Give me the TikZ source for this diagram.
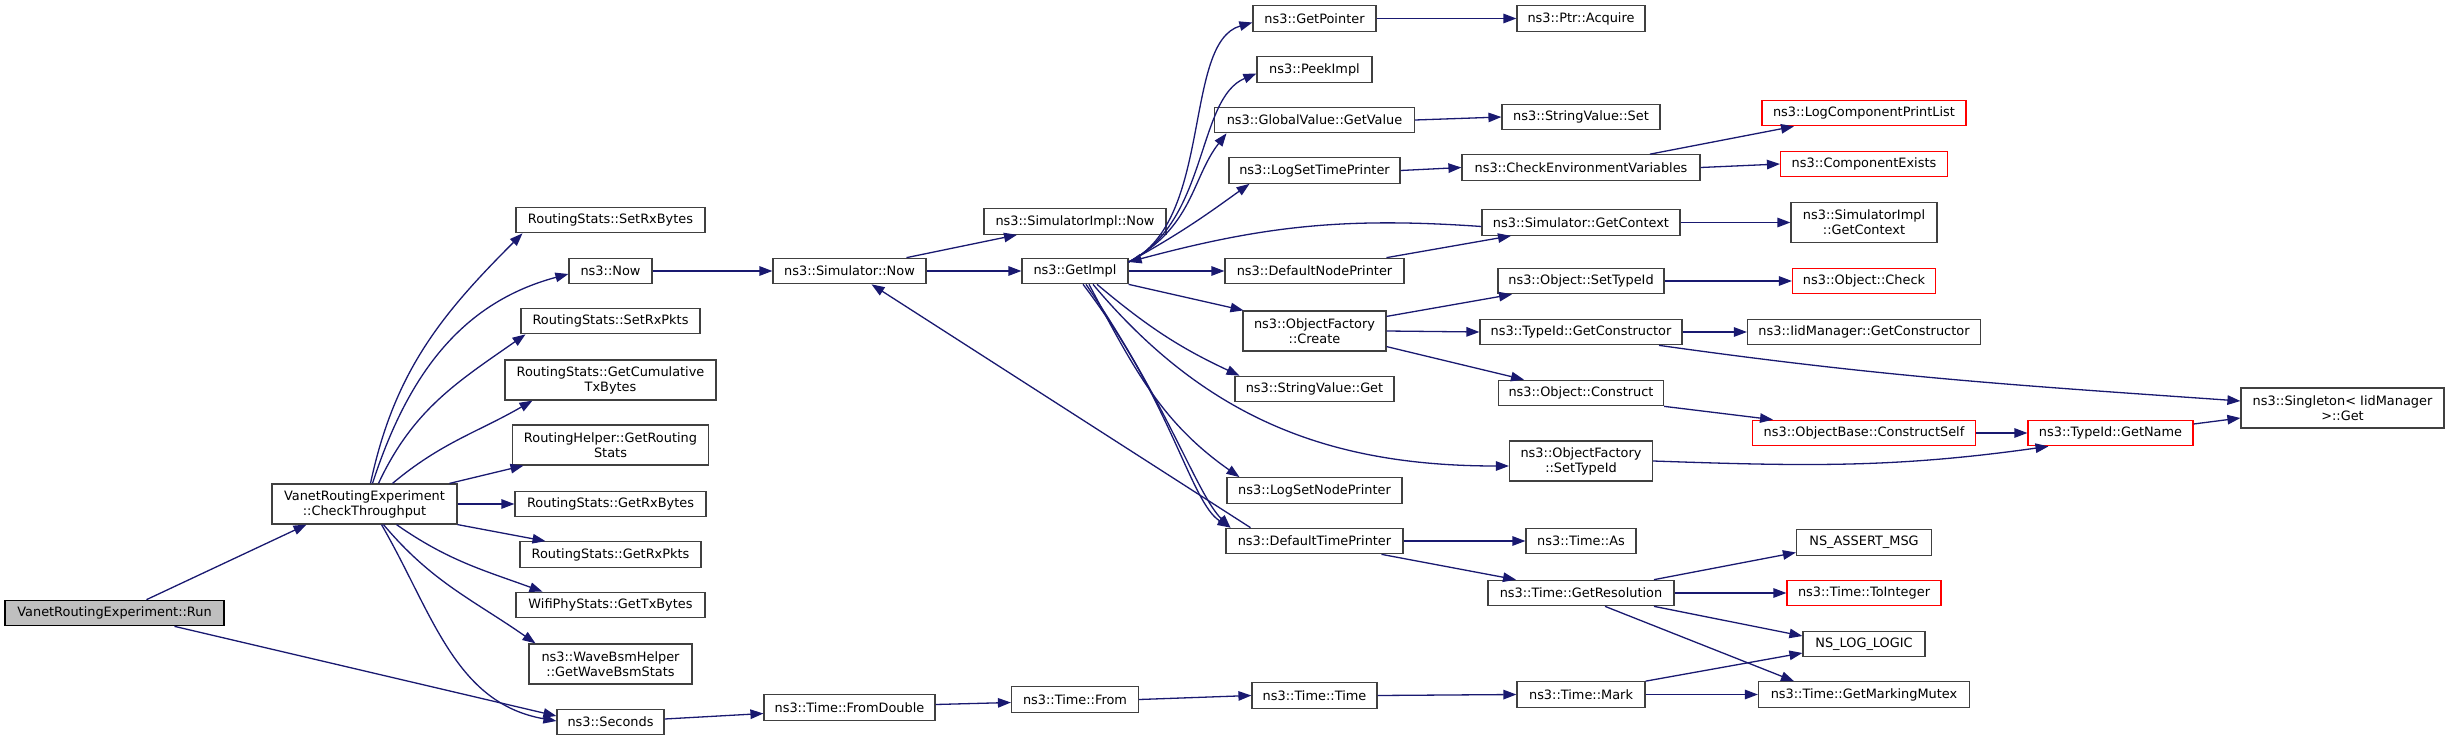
\documentclass[tikz,border=0pt]{standalone}
\usepackage{fontspec}
\setmainfont{DejaVu Sans}
\usetikzlibrary{arrows.meta}
\definecolor{edgec}{HTML}{191970}
\definecolor{boxc}{HTML}{404040}
\definecolor{rootfill}{HTML}{BFBFBF}
\newcommand\gfont{\fontsize{12.9}{15}\selectfont}
\tikzset{
  fn/.style={draw=boxc, line width=1.2pt, fill=white, inner xsep=0pt, inner ysep=0pt,
             minimum height=25.5pt, font=\gfont, align=center},
  fn2/.style={fn, minimum height=40pt},
  trunc/.style={draw=red},
  rootn/.style={fn, fill=rootfill, draw=black},
  e/.style={draw=edgec, line width=1.3pt, -{Triangle[length=13pt,width=9.5pt]}}
}
\begin{document}
\begin{tikzpicture}[x=1pt,y=1pt]
\useasboundingbox (0,0) rectangle (2449,-741);
% column 0 and 1
\node[rootn, minimum width=219pt] (run) at (114.5,-613) {VanetRoutingExperiment::Run};
\node[fn2, minimum width=185pt] (chk) at (364.5,-504) {VanetRoutingExperiment\\::CheckThroughput};
% column 2
\node[fn, minimum width=189pt] (srxb) at (610.5,-220) {RoutingStats::SetRxBytes};
\node[fn, minimum width=83pt] (now) at (610.5,-271) {ns3::Now};
\node[fn, minimum width=179pt] (srxp) at (610.5,-321) {RoutingStats::SetRxPkts};
\node[fn2, minimum width=211pt] (gcum) at (610.5,-380) {RoutingStats::GetCumulative\\TxBytes};
\node[fn2, minimum width=196pt] (grs) at (610.5,-445) {RoutingHelper::GetRouting\\Stats};
\node[fn, minimum width=191pt] (grxb) at (610.5,-504) {RoutingStats::GetRxBytes};
\node[fn, minimum width=181pt] (grxp) at (610.5,-554.5) {RoutingStats::GetRxPkts};
\node[fn, minimum width=189pt] (gtxb) at (610.5,-605) {WifiPhyStats::GetTxBytes};
\node[fn2, minimum width=163pt] (wbsm) at (610.5,-664) {ns3::WaveBsmHelper\\::GetWaveBsmStats};
\node[fn, minimum width=107pt] (sec) at (610.5,-722) {ns3::Seconds};
% column 3
\node[fn, minimum width=153pt] (snow) at (849.5,-271) {ns3::Simulator::Now};
\node[fn, minimum width=171pt] (fromd) at (849.5,-707.5) {ns3::Time::FromDouble};
% column 4
\node[fn, minimum width=182pt] (simpnow) at (1075,-221.5) {ns3::SimulatorImpl::Now};
\node[fn, minimum width=106pt] (getimpl) at (1075,-271) {ns3::GetImpl};
\node[fn, minimum width=127pt] (tfrom) at (1075,-699.5) {ns3::Time::From};
% column 5
\node[fn, minimum width=123pt] (getptr) at (1314.5,-18.5) {ns3::GetPointer};
\node[fn, minimum width=115pt] (peek) at (1314.5,-69.5) {ns3::PeekImpl};
\node[fn, minimum width=200pt] (gvgv) at (1314.5,-120) {ns3::GlobalValue::GetValue};
\node[fn, minimum width=171pt] (lstp) at (1314.5,-170.5) {ns3::LogSetTimePrinter};
\node[fn, minimum width=179pt] (dnp) at (1314.5,-271) {ns3::DefaultNodePrinter};
\node[fn2, minimum width=143pt] (ofc) at (1314.5,-331) {ns3::ObjectFactory\\::Create};
\node[fn, minimum width=159pt] (svg) at (1314.5,-389) {ns3::StringValue::Get};
\node[fn, minimum width=175pt] (lsnp) at (1314.5,-490.5) {ns3::LogSetNodePrinter};
\node[fn, minimum width=177pt] (dtp) at (1314.5,-541) {ns3::DefaultTimePrinter};
\node[fn, minimum width=125pt] (ttime) at (1314.5,-695.5) {ns3::Time::Time};
% column 6
\node[fn, minimum width=128pt] (acq) at (1581,-18.5) {ns3::Ptr::Acquire};
\node[fn, minimum width=158pt] (svs) at (1581,-117) {ns3::StringValue::Set};
\node[fn, minimum width=238pt] (cev) at (1581,-167.5) {ns3::CheckEnvironmentVariables};
\node[fn, minimum width=198pt] (sgc) at (1581,-222.5) {ns3::Simulator::GetContext};
\node[fn, minimum width=166pt] (ost) at (1581,-281) {ns3::Object::SetTypeId};
\node[fn, minimum width=202pt] (tgc) at (1581,-332) {ns3::TypeId::GetConstructor};
\node[fn, minimum width=165pt] (oc) at (1581,-393) {ns3::Object::Construct};
\node[fn2, minimum width=143pt] (ofst) at (1581,-461) {ns3::ObjectFactory\\::SetTypeId};
\node[fn, minimum width=110pt] (tas) at (1581,-541) {ns3::Time::As};
\node[fn, minimum width=186pt] (tgr) at (1581,-593) {ns3::Time::GetResolution};
\node[fn, minimum width=128pt] (tmark) at (1581,-694.5) {ns3::Time::Mark};
% column 7
\node[fn, trunc, minimum width=204pt] (lcpl) at (1864,-113) {ns3::LogComponentPrintList};
\node[fn, trunc, minimum width=167pt] (cex) at (1864,-164) {ns3::ComponentExists};
\node[fn2, minimum width=146pt] (sigc) at (1864,-222.5) {ns3::SimulatorImpl\\::GetContext};
\node[fn, trunc, minimum width=143pt] (ochk) at (1864,-281) {ns3::Object::Check};
\node[fn, minimum width=233pt] (imgc) at (1864,-332) {ns3::IidManager::GetConstructor};
\node[fn, trunc, minimum width=223pt] (ocs) at (1864,-433) {ns3::ObjectBase::ConstructSelf};
\node[fn, minimum width=135pt] (nsam) at (1864,-542.5) {NS\_ASSERT\_MSG};
\node[fn, trunc, minimum width=154pt] (toi) at (1864,-593) {ns3::Time::ToInteger};
\node[fn, minimum width=122pt] (nll) at (1864,-644) {NS\_LOG\_LOGIC};
\node[fn, minimum width=211pt] (gmm) at (1864,-694.5) {ns3::Time::GetMarkingMutex};
% columns 8, 9
\node[fn, trunc, minimum width=165pt] (tgn) at (2110.5,-433) {ns3::TypeId::GetName};
\node[fn2, minimum width=203pt] (sing) at (2342.5,-408) {ns3::Singleton< IidManager\\>::Get};

% edges
\draw[e] ([xshift=32pt]run.north) -- ([xshift=-58pt]chk.south);
\draw[e] ([xshift=60pt]run.south) -- ([yshift=6pt]sec.west);
\draw[e] ([xshift=6pt]chk.north) to[out=78,in=-135] ([xshift=-88pt]srxb.south);
\draw[e] ([xshift=8pt]chk.north) to[out=72,in=195] ([yshift=-3pt]now.west);
\draw[e] ([xshift=14pt]chk.north) to[out=65,in=-145] ([xshift=-85pt]srxp.south);
\draw[e] ([xshift=28pt]chk.north) to[out=40,in=-150] ([xshift=-78pt]gcum.south);
\draw[e] ([xshift=85pt]chk.north) -- ([xshift=-87pt]grs.south);
\draw[e] (chk.east) -- (grxb.west);
\draw[e] (chk.south east) -- ([xshift=-65pt]grxp.north);
\draw[e] ([xshift=32pt]chk.south) to[out=-35,in=160] ([xshift=-68pt]gtxb.north);
\draw[e] ([xshift=19pt]chk.south) to[out=-50,in=145] ([xshift=-75pt]wbsm.north);
\draw[e] ([xshift=17pt]chk.south) to[out=-60,in=170] ([yshift=1pt]sec.west);
\draw[e] (now.east) -- (snow.west);
\draw[e] ([xshift=57pt]snow.north) -- ([xshift=-58pt]simpnow.south);
\draw[e] (snow.east) -- (getimpl.west);
\draw[e] ([xshift=-64pt]dtp.north) -- ([xshift=22pt]snow.south);
\draw[e] ([yshift=3pt]sec.east) -- ([yshift=-6pt]fromd.west);
\draw[e] ([yshift=3pt]fromd.east) -- ([yshift=-3pt]tfrom.west);
\draw[e] (tfrom.east) -- (ttime.west);
\draw[e] (ttime.east) -- (tmark.west);
\draw[e] (tmark.north east) -- ([yshift=-9pt]nll.west);
\draw[e] (tmark.east) -- (gmm.west);
\draw[e] ([xshift=73pt]tgr.north) -- ([yshift=-10pt]nsam.west);
\draw[e] (tgr.east) -- (toi.west);
\draw[e] ([xshift=73pt]tgr.south) -- ([yshift=8pt]nll.west);
\draw[e] ([xshift=24pt]tgr.south) -- ([xshift=-70pt]gmm.north);
\draw[e] (dtp.east) -- (tas.west);
\draw[e] ([xshift=67pt]dtp.south) -- ([xshift=-65pt]tgr.north);
% GetImpl fan
\draw[e] ([yshift=9pt]getimpl.east) .. controls +(85,40) and +(-70,-20) .. ([yshift=-4pt]getptr.west);
\draw[e] ([yshift=9pt]getimpl.east) .. controls +(80,40) and +(-60,-25) .. ([yshift=-4pt]peek.west);
\draw[e] ([yshift=9pt]getimpl.east) .. controls +(65,35) and +(-35,-45) .. ([xshift=-88pt]gvgv.south);
\draw[e] ([yshift=9pt]getimpl.east) .. controls +(55,30) and +(-35,-25) .. ([xshift=-65pt]lstp.south);
\draw[e] ([yshift=-4pt]sgc.west) to[out=176,in=15] ([yshift=9pt]getimpl.east);
\draw[e] (getimpl.east) -- (dnp.west);
\draw[e] (getimpl.south east) -- ([xshift=-71pt]ofc.north);
\draw[e] ([xshift=22pt]getimpl.south) to[out=-40,in=155] ([xshift=-75pt]svg.north);
\draw[e] ([xshift=18pt]getimpl.south) to[out=-50,in=180] ([yshift=-5pt]ofst.west);
\draw[e] ([xshift=14pt]getimpl.south) to[out=-62,in=145] ([xshift=-75pt]lsnp.north);
\draw[e] ([xshift=8pt]getimpl.south) .. controls +(88,-115) and +(-40,25) .. ([xshift=-84pt]dtp.north);
\draw[e] ([xshift=11pt]getimpl.south) .. controls +(82,-120) and +(-33,32) .. ([xshift=-84pt]dtp.north);
\draw[e] ([xshift=72pt]dnp.north) -- ([xshift=-70pt]sgc.south);
% right part
\draw[e] (getptr.east) -- (acq.west);
\draw[e] (gvgv.east) -- (svs.west);
\draw[e] (lstp.east) -- (cev.west);
\draw[e] ([xshift=69pt]cev.north) -- ([xshift=-70pt]lcpl.south);
\draw[e] (cev.east) -- (cex.west);
\draw[e] (sgc.east) -- (sigc.west);
\draw[e] ([yshift=-6pt]ofc.north east) -- ([xshift=-69pt]ost.south);
\draw[e] (ofc.east) -- (tgc.west);
\draw[e] ([yshift=5pt]ofc.south east) -- ([xshift=-57pt]oc.north);
\draw[e] (ost.east) -- (ochk.west);
\draw[e] (tgc.east) -- (imgc.west);
\draw[e] ([xshift=78pt]tgc.south) to[out=-8,in=176] ([yshift=7pt]sing.west);
\draw[e] (oc.south east) -- ([xshift=-91pt]ocs.north);
\draw[e] (ocs.east) -- (tgn.west);
\draw[e] (ofst.east) to[out=-2,in=188] ([xshift=-62pt]tgn.south);
\draw[e] ([yshift=9pt]tgn.east) -- ([yshift=-10pt]sing.west);
\end{tikzpicture}
\end{document}
